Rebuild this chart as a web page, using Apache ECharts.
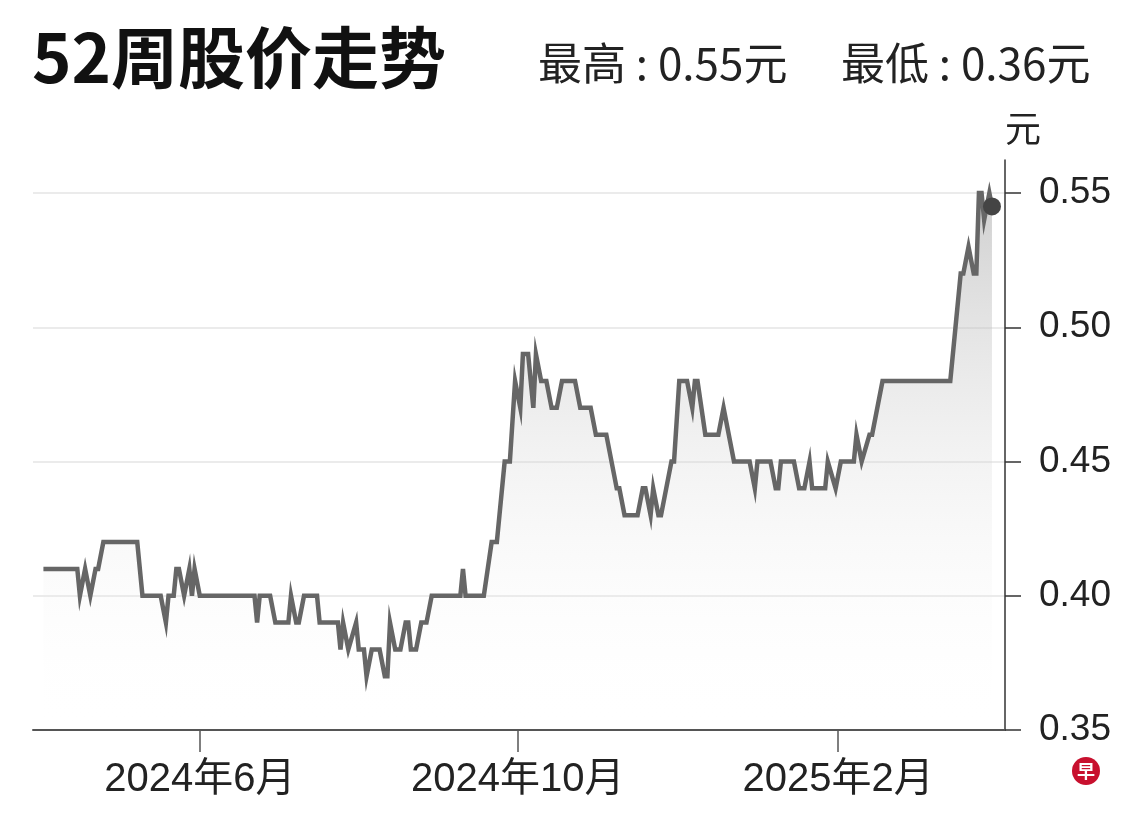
<!DOCTYPE html>
<html>
<head>
<meta charset="utf-8">
<script src="https://cdn.jsdelivr.net/npm/echarts@6/dist/echarts.min.js"></script>
<style>
html,body{margin:0;padding:0;background:#fff;}
#chart{width:1140px;height:822px;}
</style>
</head>
<body>
<div id="chart"></div>
<script>
// ---- data ----
const titleText = '52周股价走势';
const highVal = 0.55;
const lowVal = 0.36;
const unitText = '元';

const dates = [
 '2024-04-02','2024-04-15','2024-04-16','2024-04-18','2024-04-20','2024-04-22','2024-04-23','2024-04-25',
 '2024-05-08','2024-05-10','2024-05-17','2024-05-19','2024-05-20','2024-05-22','2024-05-23','2024-05-24',
 '2024-05-26','2024-05-28','2024-05-29','2024-05-30','2024-06-01','2024-06-22','2024-06-23','2024-06-24',
 '2024-06-28','2024-06-30','2024-07-05','2024-07-06','2024-07-08','2024-07-09','2024-07-11','2024-07-16',
 '2024-07-17','2024-07-24','2024-07-25','2024-07-26','2024-07-28','2024-07-31','2024-08-01','2024-08-03',
 '2024-08-04','2024-08-06','2024-08-09','2024-08-11','2024-08-12','2024-08-13','2024-08-15','2024-08-17',
 '2024-08-19','2024-08-20','2024-08-21','2024-08-23','2024-08-25','2024-08-27','2024-08-29','2024-09-09',
 '2024-09-10','2024-09-11','2024-09-18','2024-09-21','2024-09-23','2024-09-26','2024-09-28','2024-09-30',
 '2024-10-02','2024-10-03','2024-10-05','2024-10-07','2024-10-08','2024-10-10','2024-10-12','2024-10-14',
 '2024-10-16','2024-10-18','2024-10-23','2024-10-25','2024-10-29','2024-10-31','2024-11-04','2024-11-08',
 '2024-11-09','2024-11-11','2024-11-16','2024-11-18','2024-11-19','2024-11-21','2024-11-22','2024-11-24',
 '2024-11-25','2024-11-27','2024-11-29','2024-11-30','2024-12-02','2024-12-05','2024-12-07','2024-12-08',
 '2024-12-09','2024-12-12','2024-12-17','2024-12-19','2024-12-23','2024-12-29','2024-12-31','2025-01-01',
 '2025-01-06','2025-01-08','2025-01-09','2025-01-10','2025-01-15','2025-01-17','2025-01-19','2025-01-21',
 '2025-01-22','2025-01-27','2025-01-28','2025-01-31','2025-02-02','2025-02-07','2025-02-08','2025-02-10',
 '2025-02-13','2025-02-14','2025-02-18','2025-03-16','2025-03-18','2025-03-20','2025-03-21','2025-03-23',
 '2025-03-25','2025-03-26','2025-03-27','2025-03-28','2025-03-29','2025-03-31','2025-04-01'
];
const prices = [
 0.41,0.41,0.40,0.41,0.40,0.41,0.41,0.42,
 0.42,0.40,0.40,0.39,0.40,0.40,0.41,0.41,
 0.40,0.41,0.40,0.41,0.40,0.40,0.39,0.40,
 0.40,0.39,0.39,0.40,0.39,0.39,0.40,0.40,
 0.39,0.39,0.38,0.39,0.38,0.39,0.38,0.38,
 0.37,0.38,0.38,0.37,0.37,0.39,0.38,0.38,
 0.39,0.39,0.38,0.38,0.39,0.39,0.40,0.40,
 0.41,0.40,0.40,0.42,0.42,0.45,0.45,0.48,
 0.47,0.49,0.49,0.47,0.49,0.48,0.48,0.47,
 0.47,0.48,0.48,0.47,0.47,0.46,0.46,0.44,
 0.44,0.43,0.43,0.44,0.44,0.43,0.44,0.43,
 0.43,0.44,0.45,0.45,0.48,0.48,0.47,0.48,
 0.48,0.46,0.46,0.47,0.45,0.45,0.44,0.45,
 0.45,0.44,0.44,0.45,0.45,0.44,0.44,0.45,
 0.44,0.44,0.45,0.44,0.45,0.45,0.46,0.45,
 0.46,0.46,0.48,0.48,0.50,0.52,0.52,0.53,
 0.52,0.52,0.55,0.55,0.54,0.55,0.545
];
const yTicks = [0.35, 0.40, 0.45, 0.50, 0.55];
const xTickDates = ['2024-06-01', '2024-10-01', '2025-02-01'];
const xTickLabels = ['2024年6月', '2024年10月', '2025年2月'];
const xRange = ['2024-03-29', '2025-04-06'];
const yRange = [0.35, 0.5623];

// ---- helpers ----
function ts(s) { const p = s.split('-').map(Number); return Date.UTC(p[0], p[1] - 1, p[2]); }
const seriesData = dates.map((d, i) => [ts(d), prices[i]]);
const lastPoint = seriesData[seriesData.length - 1];
const xTickTs = xTickDates.map(ts);

const FONT = '"Liberation Sans", "Noto Sans CJK SC", sans-serif';
const CJK = '"Noto Sans CJK SC", sans-serif';
const chart = echarts.init(document.getElementById('chart'), null, { renderer: 'canvas' });
chart.setOption({
  animation: false,
  backgroundColor: '#ffffff',
  title: [
    { text: titleText, left: 27, top: 19,
      textStyle: { fontFamily: CJK, fontWeight: 'bold', fontSize: 67, color: '#111' } },
    { text: '最高 : ' + highVal.toFixed(2) + unitText, left: 533, top: 36,
      textStyle: { fontFamily: CJK, fontWeight: 'normal', fontSize: 44, color: '#222' } },
    { text: '最低 : ' + lowVal.toFixed(2) + unitText, left: 836, top: 36,
      textStyle: { fontFamily: CJK, fontWeight: 'normal', fontSize: 44, color: '#222' } }
  ],
  grid: { left: 33, right: 135, top: 160, bottom: 92, containLabel: false },
  xAxis: {
    type: 'value',
    min: ts(xRange[0]), max: ts(xRange[1]),
    axisLine: { show: true, lineStyle: { color: '#555', width: 2 } },
    axisTick: { show: true, customValues: xTickTs, length: 22, lineStyle: { color: '#555', width: 1.5 } },
    axisLabel: {
      customValues: xTickTs, margin: 30, fontSize: 40, color: '#222', fontFamily: FONT,
      formatter: function (v) { const i = xTickTs.indexOf(v); return i >= 0 ? xTickLabels[i] : ''; }
    },
    splitLine: { show: false }
  },
  yAxis: {
    type: 'value', position: 'right',
    min: yRange[0], max: yRange[1],
    name: unitText, nameLocation: 'end', nameGap: 14,
    nameTextStyle: { fontFamily: CJK, fontSize: 36, color: '#222', align: 'left' },
    axisLine: { show: true, lineStyle: { color: '#333', width: 1.5 } },
    axisTick: { show: true, inside: false, customValues: yTicks, length: 16, lineStyle: { color: '#333', width: 1.5 } },
    axisLabel: { customValues: yTicks, margin: 34, fontSize: 37, color: '#222', fontFamily: FONT,
      formatter: function (v) { return v.toFixed(2); } },
    splitLine: { show: true, lineStyle: { color: '#ebebeb', width: 2 } }
  },
  series: [
    {
      type: 'line', data: seriesData, symbol: 'none', smooth: false,
      lineStyle: { color: '#666666', width: 4.5, join: 'miter' },
      areaStyle: {
        origin: 'start',
        color: new echarts.graphic.LinearGradient(0, 0, 0, 1, [
          { offset: 0, color: 'rgba(170,170,170,0.8)' },
          { offset: 1, color: 'rgba(255,255,255,0)' }
        ])
      },
      z: 2
    },
    {
      type: 'scatter', data: [lastPoint], symbol: 'circle', symbolSize: 18,
      itemStyle: { color: '#444', opacity: 1 }, z: 5
    }
  ],
  graphic: [
    { type: 'circle', shape: { cx: 1086, cy: 771, r: 14 }, style: { fill: '#c8102e' }, z: 10 },
    { type: 'text', x: 1086, y: 771, style: { text: '早', fill: '#fff', fontSize: 18, fontWeight: 'bold',
      fontFamily: CJK, align: 'center', verticalAlign: 'middle' }, z: 11 }
  ]
});
</script>
</body>
</html>
